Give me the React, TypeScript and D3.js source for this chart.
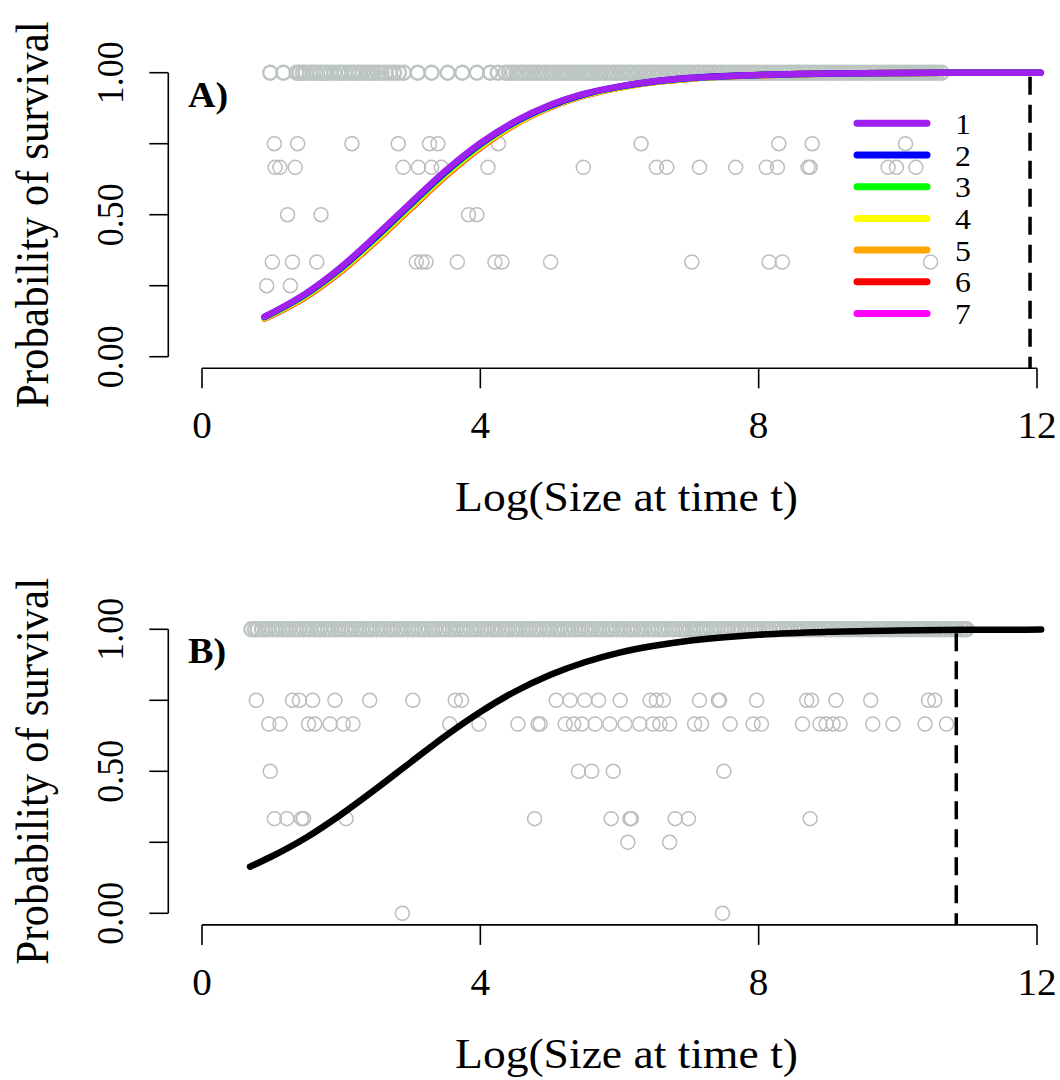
import React from "react";
import * as d3 from "d3";

// fitted survival curves at these sizes
const fitX = [0.9, 1.5, 2, 2.5, 3, 3.5, 4, 4.5, 5, 5.5, 6, 6.5, 7, 8, 9, 10, 11, 12.05];
const surv1 = [0.141, 0.224, 0.316, 0.426, 0.542, 0.655, 0.752, 0.829, 0.886, 0.926, 0.952, 0.97, 0.981, 0.992, 0.997, 0.999, 1, 1];
const surv2 = [0.14, 0.222, 0.313, 0.422, 0.538, 0.651, 0.749, 0.827, 0.884, 0.925, 0.951, 0.969, 0.981, 0.992, 0.997, 0.999, 1, 1];
const surv3 = [0.139, 0.22, 0.311, 0.419, 0.535, 0.648, 0.746, 0.825, 0.883, 0.924, 0.95, 0.969, 0.98, 0.992, 0.997, 0.999, 1, 1];
const surv4 = [0.137, 0.217, 0.307, 0.414, 0.53, 0.643, 0.742, 0.822, 0.881, 0.922, 0.949, 0.968, 0.98, 0.992, 0.997, 0.999, 1, 1];
const surv5 = [0.135, 0.214, 0.303, 0.409, 0.524, 0.638, 0.738, 0.819, 0.879, 0.921, 0.948, 0.967, 0.979, 0.991, 0.997, 0.999, 1, 1];
const surv6 = [0.134, 0.212, 0.301, 0.407, 0.522, 0.636, 0.736, 0.818, 0.878, 0.92, 0.948, 0.967, 0.979, 0.991, 0.997, 0.999, 1, 1];
const surv7 = [0.138, 0.219, 0.309, 0.417, 0.533, 0.646, 0.744, 0.824, 0.882, 0.923, 0.95, 0.968, 0.98, 0.992, 0.997, 0.999, 1, 1];
const seriesNames = ["1", "2", "3", "4", "5", "6", "7"];
const seriesColors = ["#a020f0", "#0000ff", "#00ff00", "#ffff00", "#ffa500", "#ff0000", "#ff00ff"];

const fitXB = [0.69, 1, 1.5, 2, 2.5, 3, 3.5, 4, 4.5, 5, 5.5, 6, 6.5, 7, 8, 9, 10, 11, 12.06];
const survB = [0.164, 0.2, 0.267, 0.348, 0.438, 0.532, 0.625, 0.709, 0.781, 0.839, 0.884, 0.918, 0.942, 0.96, 0.981, 0.991, 0.996, 0.998, 0.999];

// observed proportions surviving, panel A
const onesA = [0.98, 1.17, 1.36, 1.4, 1.45, 1.49, 1.55, 1.6, 1.64, 1.7, 1.75, 1.79, 1.85, 1.9, 1.96, 2.0, 2.05, 2.11, 2.16, 2.2, 2.26, 2.31, 2.37, 2.42, 2.47, 2.53, 2.58, 2.64, 2.7, 2.76, 2.83, 2.9,
  3.1, 3.3, 3.53, 3.74, 3.95, 4.14, 4.25, 4.36, 4.41, 4.47, 4.52, 4.58, 4.63, 4.69, 4.74, 4.8, 4.85, 4.91, 4.96, 5.02, 5.07, 5.13, 5.18, 5.24, 5.29, 5.35, 5.4, 5.46, 5.51, 5.57, 5.62, 5.68,
  5.73, 5.79, 5.84, 5.9, 5.95, 6.01, 6.06, 6.12, 6.17, 6.23, 6.28, 6.34, 6.39, 6.45, 6.5, 6.56, 6.61, 6.67, 6.72, 6.78, 6.83, 6.89, 6.94, 7.0, 7.05, 7.11, 7.16, 7.22, 7.27, 7.33, 7.38, 7.44,
  7.49, 7.55, 7.6, 7.66, 7.71, 7.77, 7.82, 7.88, 7.93, 7.99, 8.04, 8.1, 8.15, 8.21, 8.26, 8.32, 8.37, 8.43, 8.48, 8.54, 8.59, 8.65, 8.7, 8.76, 8.81, 8.87, 8.92, 8.98, 9.03, 9.09, 9.14, 9.2,
  9.25, 9.31, 9.36, 9.42, 9.47, 9.53, 9.58, 9.64, 9.69, 9.75, 9.8, 9.86, 9.91, 9.97, 10.02, 10.08, 10.13, 10.19, 10.24, 10.3, 10.35, 10.41, 10.46, 10.52, 10.57, 10.63];
const threeQA = [1.04, 1.375, 2.155, 2.82, 3.27, 3.39, 4.26, 6.31, 8.29, 8.77, 10.11];
const twoThirdsA = [1.05, 1.12, 1.34, 2.89, 3.11, 3.3, 3.44, 4.11, 5.48, 6.53, 6.68, 7.15, 7.67, 8.11, 8.27, 8.71, 8.74, 9.86, 9.98, 10.26];
const halfA = [1.23, 1.71, 3.83, 3.95];
const oneThirdA = [1.01, 1.3, 1.65, 3.08, 3.16, 3.22, 3.67, 4.21, 4.31, 5.01, 7.04, 8.15, 8.34, 10.47];
const quarterA = [0.93, 1.27];

// panel B
const onesB = [0.71, 0.76, 0.8, 0.86, 0.91, 0.95, 1.01, 1.06, 1.1, 1.16, 1.21, 1.25, 1.31, 1.36, 1.4, 1.46, 1.51, 1.55, 1.61, 1.66, 1.7, 1.76, 1.81, 1.85, 1.91, 1.96, 2.0, 2.06, 2.11, 2.15,
  2.21, 2.26, 2.3, 2.36, 2.41, 2.45, 2.51, 2.56, 2.6, 2.66, 2.71, 2.75, 2.81, 2.86, 2.9, 2.96, 3.01, 3.05, 3.11, 3.16, 3.2, 3.26, 3.31, 3.35, 3.41, 3.46, 3.5, 3.56, 3.61, 3.65, 3.71, 3.76,
  3.8, 3.86, 3.91, 3.95, 4.01, 4.06, 4.1, 4.16, 4.21, 4.25, 4.31, 4.36, 4.4, 4.46, 4.51, 4.55, 4.61, 4.66, 4.7, 4.76, 4.81, 4.85, 4.91, 4.96, 5.0, 5.06, 5.11, 5.15, 5.21, 5.26, 5.3, 5.36,
  5.41, 5.45, 5.51, 5.56, 5.6, 5.66, 5.71, 5.75, 5.81, 5.86, 5.9, 5.96, 6.01, 6.05, 6.11, 6.16, 6.2, 6.26, 6.31, 6.35, 6.41, 6.46, 6.5, 6.56, 6.61, 6.65, 6.71, 6.76, 6.8, 6.86, 6.91, 6.95,
  7.01, 7.06, 7.1, 7.16, 7.21, 7.25, 7.31, 7.36, 7.4, 7.46, 7.51, 7.55, 7.61, 7.66, 7.7, 7.76, 7.81, 7.85, 7.91, 7.96, 8.0, 8.06, 8.11, 8.15, 8.21, 8.26, 8.3, 8.36, 8.41, 8.45, 8.51, 8.56,
  8.6, 8.66, 8.71, 8.75, 8.81, 8.86, 8.9, 8.96, 9.01, 9.05, 9.11, 9.16, 9.2, 9.26, 9.31, 9.35, 9.41, 9.46, 9.5, 9.56, 9.61, 9.65, 9.71, 9.76, 9.8, 9.86, 9.91, 9.95, 10.01, 10.06, 10.1,
  10.16, 10.21, 10.25, 10.31, 10.36, 10.4, 10.46, 10.51, 10.55, 10.61, 10.66, 10.7, 10.76, 10.81, 10.85, 10.91, 10.96, 10.99];
const threeQB = [0.78, 1.3, 1.4, 1.59, 1.91, 2.41, 3.03, 3.64, 3.73, 5.09, 5.29, 5.5, 5.7, 6.01, 6.44, 6.53, 6.63, 7.15, 7.42, 7.44, 7.97, 8.69, 8.76, 9.11, 9.61, 10.44, 10.53];
const twoThirdsB = [0.96, 1.12, 1.53, 1.62, 1.84, 2.03, 2.17, 3.56, 3.98, 4.54, 4.83, 4.86, 5.22, 5.34, 5.46, 5.65, 5.86, 6.08, 6.29, 6.48, 6.58, 6.72, 7.08, 7.18, 7.59, 7.92, 8.04, 8.63, 8.88,
  8.97, 9.07, 9.17, 9.64, 9.93, 10.39, 10.7];
const halfB = [0.98, 5.41, 5.6, 5.91, 7.5];
const oneThirdB = [1.04, 1.22, 1.43, 1.46, 2.07, 4.78, 5.88, 6.15, 6.17, 6.8, 6.99, 8.74];
const quarterB = [6.12, 6.72];
const zeroB = [2.88, 7.48];

const cutoffA = 11.9;
const cutoffB = 10.84;

const xTicks = [0, 4, 8, 12];
const yTicks = [0, 0.25, 0.5, 0.75, 1];
const yTickLabels = ["0.00", "", "0.50", "", "1.00"];

const FONT = "Liberation Serif, Times New Roman, serif";
const PT_COLOR = "#bdbdbd";
const BAND_COLOR = "#bcc5c0";
const SX = 1.06; // the original glyphs are a little wide

const x = d3.scaleLinear().domain([0, 12]).range([202, 1037]);

const Label = ({ tx, ty, rot = 0, size, anchor = "middle", weight = "normal", dy = 0, children }) => (
  <text
    transform={`translate(${tx},${ty}) scale(${SX},1)${rot ? ` rotate(${rot})` : ""}`}
    textAnchor={anchor}
    fontFamily={FONT}
    fontSize={size}
    fontWeight={weight}
    dy={dy}
  >
    {children}
  </text>
);

const Panel = ({ top, tag, rows, curves, cutoff, legend }) => {
  const y = d3.scaleLinear().domain([0, 1]).range([top + 284, top]);
  const axisY = y(0) + 11.6;
  const axisX = 168.3;
  const mid = y(0.5);

  const line = d3
    .line()
    .x((d) => x(d[0]))
    .y((d) => y(d[1]))
    .curve(d3.curveMonotoneX);

  return (
    <g>
      {/* points, the dense row of survivors is drawn a bit heavier */}
      {rows.map((row, i) =>
        row.xs.map((v, j) => (
          <circle
            key={i + "-" + j}
            cx={x(v)}
            cy={y(row.p)}
            r={7}
            fill="none"
            stroke={row.p === 1 ? BAND_COLOR : PT_COLOR}
            strokeWidth={row.p === 1 ? 2.4 : 1.5}
          />
        ))
      )}

      {/* curves */}
      {curves.map((c, i) => (
        <path
          key={i}
          d={line(c.xs.map((v, k) => [v, c.ys[k]]))}
          fill="none"
          stroke={c.color}
          strokeWidth={6.5}
          strokeLinecap="round"
          strokeLinejoin="round"
        />
      ))}

      {/* cutoff */}
      <line x1={x(cutoff)} x2={x(cutoff)} y1={y(1) + 4} y2={axisY} stroke="#000" strokeWidth={3.5} strokeDasharray="18 10" />

      {/* y axis */}
      <line x1={axisX} x2={axisX} y1={y(0)} y2={y(1)} stroke="#000" strokeWidth={1.6} />
      {yTicks.map((t, i) => (
        <g key={t}>
          <line x1={axisX - 19} x2={axisX} y1={y(t)} y2={y(t)} stroke="#000" strokeWidth={1.6} />
          {yTickLabels[i] && (
            <Label tx={123} ty={y(t)} rot={-90} size={36}>
              {yTickLabels[i]}
            </Label>
          )}
        </g>
      ))}
      <Label tx={48} ty={mid} rot={-90} size={43}>
        Probability of survival
      </Label>

      {/* x axis */}
      <line x1={x(0)} x2={x(12)} y1={axisY} y2={axisY} stroke="#000" strokeWidth={1.6} />
      {xTicks.map((t) => (
        <g key={t}>
          <line x1={x(t)} x2={x(t)} y1={axisY} y2={axisY + 20} stroke="#000" strokeWidth={1.6} />
          <Label tx={x(t)} ty={axisY + 70} size={37}>
            {t}
          </Label>
        </g>
      ))}
      <Label tx={x(6) + 7} ty={axisY + 143} size={43}>
        Log(Size at time t)
      </Label>

      <Label tx={188} ty={top + 34} size={36} anchor="start" weight="bold">
        {tag}
      </Label>

      {legend && (
        <g>
          {legend.map((l, i) => (
            <g key={l.name}>
              <line x1={857} x2={927} y1={top + 50.6 + i * 31.7} y2={top + 50.6 + i * 31.7} stroke={l.color} strokeWidth={7} strokeLinecap="round" />
              <Label tx={955} ty={top + 50.6 + i * 31.7} size={30} anchor="start" dy="0.35em">
                {l.name}
              </Label>
            </g>
          ))}
        </g>
      )}
    </g>
  );
};

export default function App() {
  const survA = [surv1, surv2, surv3, surv4, surv5, surv6, surv7];
  // purple on top, so draw it last
  const curvesA = survA
    .map((ys, i) => ({ xs: fitX, ys, color: seriesColors[i] }))
    .reverse();
  const legendA = seriesNames.map((name, i) => ({ name, color: seriesColors[i] }));

  const rowsA = [
    { p: 1, xs: onesA },
    { p: 0.75, xs: threeQA },
    { p: 2 / 3, xs: twoThirdsA },
    { p: 0.5, xs: halfA },
    { p: 1 / 3, xs: oneThirdA },
    { p: 0.25, xs: quarterA },
  ];
  const rowsB = [
    { p: 1, xs: onesB },
    { p: 0.75, xs: threeQB },
    { p: 2 / 3, xs: twoThirdsB },
    { p: 0.5, xs: halfB },
    { p: 1 / 3, xs: oneThirdB },
    { p: 0.25, xs: quarterB },
    { p: 0, xs: zeroB },
  ];

  return (
    <svg
      width={1060}
      height={1080}
      style={{ position: "absolute", left: 0, top: 0, background: "#fff" }}
    >
      <rect width={1060} height={1080} fill="#fff" />
      <Panel top={72.7} tag="A)" rows={rowsA} curves={curvesA} cutoff={cutoffA} legend={legendA} />
      <Panel
        top={629.3}
        tag="B)"
        rows={rowsB}
        curves={[{ xs: fitXB, ys: survB, color: "#000" }]}
        cutoff={cutoffB}
        legend={null}
      />
    </svg>
  );
}
